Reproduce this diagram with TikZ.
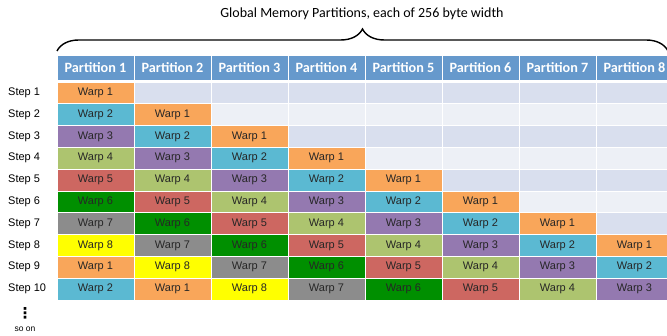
\documentclass[tikz,border=0pt]{standalone}
\usepackage{fontspec}
\setmainfont{Liberation Sans}
\newfontfamily\hdrfont{Carlito}
\newfontfamily\symfont{DejaVu Sans}
\usetikzlibrary{positioning,decorations.pathreplacing}
\definecolor{hdrblue}{HTML}{6699CC}
\definecolor{emptyA}{HTML}{D9DFEE}
\definecolor{emptyB}{HTML}{EDF0F6}
\definecolor{warp1}{HTML}{F9A65A}
\definecolor{warp2}{HTML}{5BB9D2}
\definecolor{warp3}{HTML}{9479B0}
\definecolor{warp4}{HTML}{ADC46F}
\definecolor{warp5}{HTML}{CD6761}
\definecolor{warp6}{HTML}{008F00}
\definecolor{warp7}{HTML}{8C8C8C}
\definecolor{warp8}{HTML}{FFFF00}

\begin{document}
\begin{tikzpicture}[x=1pt,y=-1pt]
\tikzstyle{part}=[rectangle, fill=hdrblue, draw=white, line width=0.8pt,
outer sep=0pt, inner sep=0pt, minimum width=77pt, minimum height=25pt,
text=white, font=\hdrfont\bfseries\fontsize{14.2}{14.2}\selectfont]
\tikzstyle{cell}=[rectangle, draw=white, line width=0.8pt,
outer sep=0pt, inner sep=0pt, minimum width=77pt, minimum height=21.8pt,
text=black!85, font=\fontsize{11}{11}\selectfont]
\tikzstyle{steplbl}=[anchor=west, inner sep=0pt, font=\fontsize{11}{11}\selectfont]

\useasboundingbox (0,0) rectangle (667,336);

\node[font=\hdrfont\fontsize{14}{14}\selectfont] (title) at (362,14)
  {Global Memory Partitions, each of 256 byte width};
\coordinate (bl) at (57,51);
\coordinate (br) at (668,51);
\draw[decorate, decoration={brace, amplitude=22pt}, line width=1.4pt] (bl) -- (br);

\node[part] at (95.5,67.5) (p1) {Partition 1};
\foreach \p [count=\q from 1] in {2,...,8}
  \node[part, right=0pt of p\q] (p\p) {Partition \p};

\foreach \s in {1,...,10}{
  \node[steplbl] (s\s) at (8,{82+21.8*(\s-0.5)}) {Step \s};
  \foreach \p in {1,...,8}{
    \pgfmathtruncatemacro\w{mod(\s-\p+16,8)+1}
    \pgfmathtruncatemacro\odd{mod(\s,2)}
    \ifnum\s<\p
      \ifnum\odd=1 \def\fc{emptyA}\else\def\fc{emptyB}\fi
      \node[cell, fill=\fc] (c\s-\p) at ({57+77*(\p-0.5)},{82+21.8*(\s-0.5)}) {};
    \else
      \node[cell, fill=warp\w] (c\s-\p) at ({57+77*(\p-0.5)},{82+21.8*(\s-0.5)}) {Warp \w};
    \fi
  }
}

\node[inner sep=0pt, font=\symfont\bfseries\fontsize{15}{15}\selectfont] (dots) at (25,313) {⋮};
\node[inner sep=0pt, font=\fontsize{8.5}{8.5}\selectfont] (soon) at (25,329) {so on};

\end{tikzpicture}
\end{document}
